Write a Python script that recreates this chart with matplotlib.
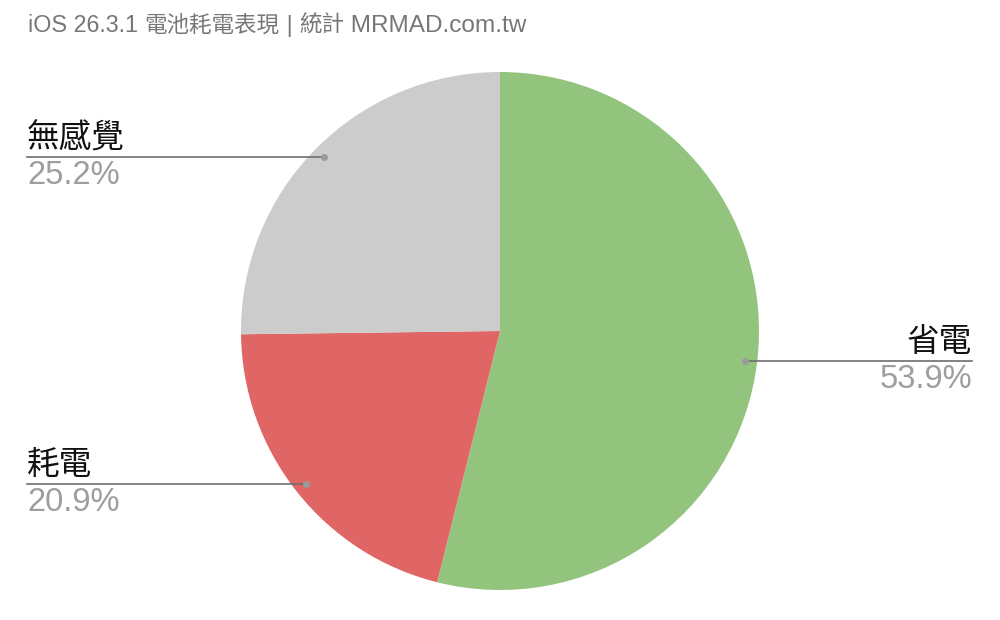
import matplotlib.pyplot as plt
import numpy as np

labels = ['省電', '耗電', '無感覺']
values = [53.9, 20.9, 25.2]
colors = ['#93c47d', '#e06666', '#cccccc']
title_parts = [('iOS 26.3.1 ', 16.8), ('電池耗電表現', 16.2), (' | ', 17.0),
               ('統計', 16.2), (' MRMAD.com.tw', 17.6)]

fonts = ['Liberation Sans', 'Noto Sans CJK TC', 'DejaVu Sans']
plt.rcParams['font.family'] = fonts

fig = plt.figure(figsize=(10, 6.2), dpi=100)
ax = fig.add_axes([0, 0, 1, 1])

cx, cy, r = 500, 331, 259
# y axis is inverted (pixel coords), so counterclockwise in data = clockwise on screen
wedges, _ = ax.pie(values, colors=colors, startangle=-90, counterclock=True,
                   center=(cx, cy), radius=r, frame=True,
                   wedgeprops=dict(linewidth=0))
ax.set_xlim(0, 1000)
ax.set_ylim(620, 0)
ax.set_aspect('equal')
ax.axis('off')

for w, lab, v in zip(wedges, labels, values):
    mid = np.deg2rad((w.theta1 + w.theta2) / 2)
    px = cx + 0.954 * r * np.cos(mid)
    py = cy + 0.954 * r * np.sin(mid)
    if np.cos(mid) > 0:
        x_end, ha = 972, 'right'
    else:
        x_end, ha = 27, 'left'
    ax.plot([px, x_end], [py, py], color='#6e6e6e', lw=1.2)
    ax.plot(px, py, 'o', color='#9a9a9a', ms=4)
    ax.text(x_end, py - 3, lab, ha=ha, va='bottom', fontsize=23.5, color='#111111')
    ax.text(x_end, py + 3, f'{v:.1f}%', ha=ha, va='top', fontsize=23.5, color='#9e9e9e')

# title made of pieces so latin and CJK parts get their own sizes
fig.canvas.draw()
renderer = fig.canvas.get_renderer()
x = 28
for txt, fs in title_parts:
    t = fig.text(x / 1000, 1 - 32 / 620, txt, ha='left', va='baseline',
                 fontsize=fs, color='#777777')
    bb = t.get_window_extent(renderer)
    x = bb.x1

fig.savefig('out.png', dpi=100)
